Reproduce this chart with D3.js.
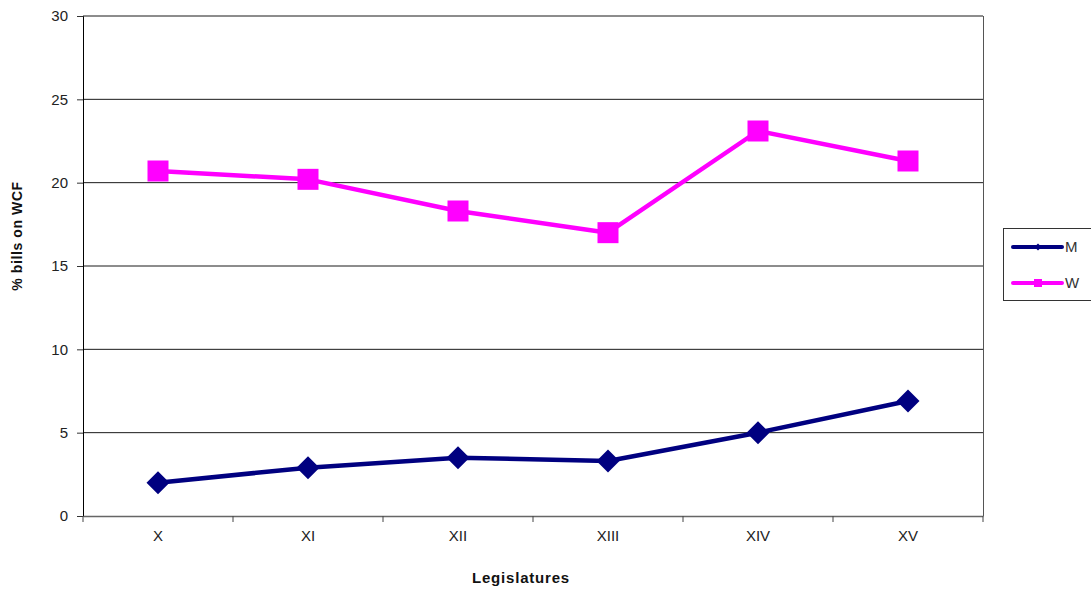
<!DOCTYPE html>
<html>
<head>
<meta charset="utf-8">
<script src="https://cdn.jsdelivr.net/npm/d3@7"></script>
<style>
  html, body { margin: 0; padding: 0; background: #fff; }
  svg { display: block; font-family: "Liberation Sans", Arial, sans-serif; }
</style>
</head>
<body>
<svg id="chart" width="1091" height="589"></svg>
<script>
// Legislatures on the x axis
const legislatures = ["X", "XI", "XII", "XIII", "XIV", "XV"];
// Share of bills on work-care-family (%), by sex of the proposer
const menValues = [2.0, 2.9, 3.5, 3.3, 5.0, 6.9];
const womenValues = [20.7, 20.2, 18.3, 17.0, 23.1, 21.3];
const yTicks = [0, 5, 10, 15, 20, 25, 30];

const seriesList = [
  { name: "M", values: menValues, color: "#000080", marker: "diamond" },
  { name: "W", values: womenValues, color: "#FF00FF", marker: "square" }
];

const svg = d3.select("#chart");
const plot = { left: 83, right: 983, top: 16, bottom: 516 };

const x = d3.scaleBand().domain(legislatures).range([plot.left, plot.right]);
const y = d3.scaleLinear().domain([0, 30]).range([plot.bottom, plot.top]);

// Horizontal gridlines
svg.append("g")
  .selectAll("line")
  .data(yTicks.filter(d => d > 0))
  .join("line")
  .attr("x1", plot.left).attr("x2", plot.right)
  .attr("y1", d => y(d)).attr("y2", d => y(d))
  .attr("stroke", "#1a1a1a").attr("stroke-width", 1);

// Right edge of the plot frame
svg.append("line")
  .attr("x1", plot.right + 0.5).attr("x2", plot.right + 0.5)
  .attr("y1", plot.top).attr("y2", plot.bottom)
  .attr("stroke", "#555").attr("stroke-width", 1);

// Y axis
const yAxis = svg.append("g")
  .attr("transform", `translate(${plot.left},0)`)
  .call(d3.axisLeft(y).tickValues(yTicks).tickSize(6).tickPadding(9));
yAxis.select(".domain").attr("stroke", "#000");
yAxis.selectAll(".tick line").attr("stroke", "#333");
yAxis.selectAll("text")
  .attr("font-size", 15).attr("fill", "#222")
  .attr("font-family", "'Liberation Sans', Arial, sans-serif");

// X axis with ticks between categories
const xAxis = svg.append("g")
  .attr("transform", `translate(0,${plot.bottom})`)
  .call(d3.axisBottom(x).tickSize(0).tickPadding(14));
xAxis.select(".domain").attr("stroke", "#666").attr("stroke-width", 1.5);
xAxis.selectAll("text")
  .attr("font-size", 15).attr("fill", "#222")
  .attr("font-family", "'Liberation Sans', Arial, sans-serif");
const bounds = legislatures.map(d => x(d)).concat([x(legislatures[legislatures.length - 1]) + x.bandwidth()]);
xAxis.selectAll(".sep")
  .data(bounds)
  .join("line")
  .attr("class", "sep")
  .attr("x1", d => d).attr("x2", d => d)
  .attr("y1", 0).attr("y2", 6)
  .attr("stroke", "#444").attr("stroke-width", 1);

const cx = d => x(d) + x.bandwidth() / 2;

const line = d3.line()
  .x((d, i) => cx(legislatures[i]))
  .y(d => y(d));

function drawMarker(g, type, color, size) {
  if (type === "square") {
    g.append("rect")
      .attr("x", -size / 2).attr("y", -size / 2)
      .attr("width", size).attr("height", size)
      .attr("fill", color);
  } else {
    const r = size / 2;
    g.append("path")
      .attr("d", `M0,${-r}L${r},0L0,${r}L${-r},0Z`)
      .attr("fill", color);
  }
}

seriesList.forEach(s => {
  svg.append("path")
    .datum(s.values)
    .attr("d", line)
    .attr("fill", "none")
    .attr("stroke", s.color)
    .attr("stroke-width", 4.5)
    .attr("stroke-linejoin", "round");

  svg.append("g")
    .selectAll("g")
    .data(s.values)
    .join("g")
    .attr("transform", (d, i) => `translate(${cx(legislatures[i])},${y(d)})`)
    .each(function () {
      drawMarker(d3.select(this), s.marker, s.color, s.marker === "square" ? 21 : 23);
    });
});

// Axis titles
svg.append("text")
  .attr("transform", `translate(22,${(plot.top + plot.bottom) / 2 - 30}) rotate(-90)`)
  .attr("text-anchor", "middle")
  .attr("font-size", 14).attr("font-weight", "bold")
  .attr("letter-spacing", 0.6)
  .attr("fill", "#111")
  .text("% bills on WCF");

svg.append("text")
  .attr("x", 521).attr("y", 583)
  .attr("text-anchor", "middle")
  .attr("font-size", 15).attr("font-weight", "bold")
  .attr("letter-spacing", 0.8)
  .attr("fill", "#111")
  .text("Legislatures");

// Legend
const legend = svg.append("g");
legend.append("rect")
  .attr("x", 1003.5).attr("y", 228.5)
  .attr("width", 100).attr("height", 72)
  .attr("fill", "#fff").attr("stroke", "#333").attr("stroke-width", 1);

seriesList.forEach((s, i) => {
  const ly = 247 + i * 36;
  legend.append("line")
    .attr("x1", 1013).attr("x2", 1062)
    .attr("y1", ly).attr("y2", ly)
    .attr("stroke", s.color).attr("stroke-width", 4)
    .attr("stroke-linecap", "round");
  const mg = legend.append("g").attr("transform", `translate(1038,${ly})`);
  drawMarker(mg, s.marker, s.color, s.marker === "square" ? 8 : 7);
  legend.append("text")
    .attr("x", 1065).attr("y", ly + 5)
    .attr("font-size", 15).attr("fill", "#333")
    .text(s.name);
});
</script>
</body>
</html>
